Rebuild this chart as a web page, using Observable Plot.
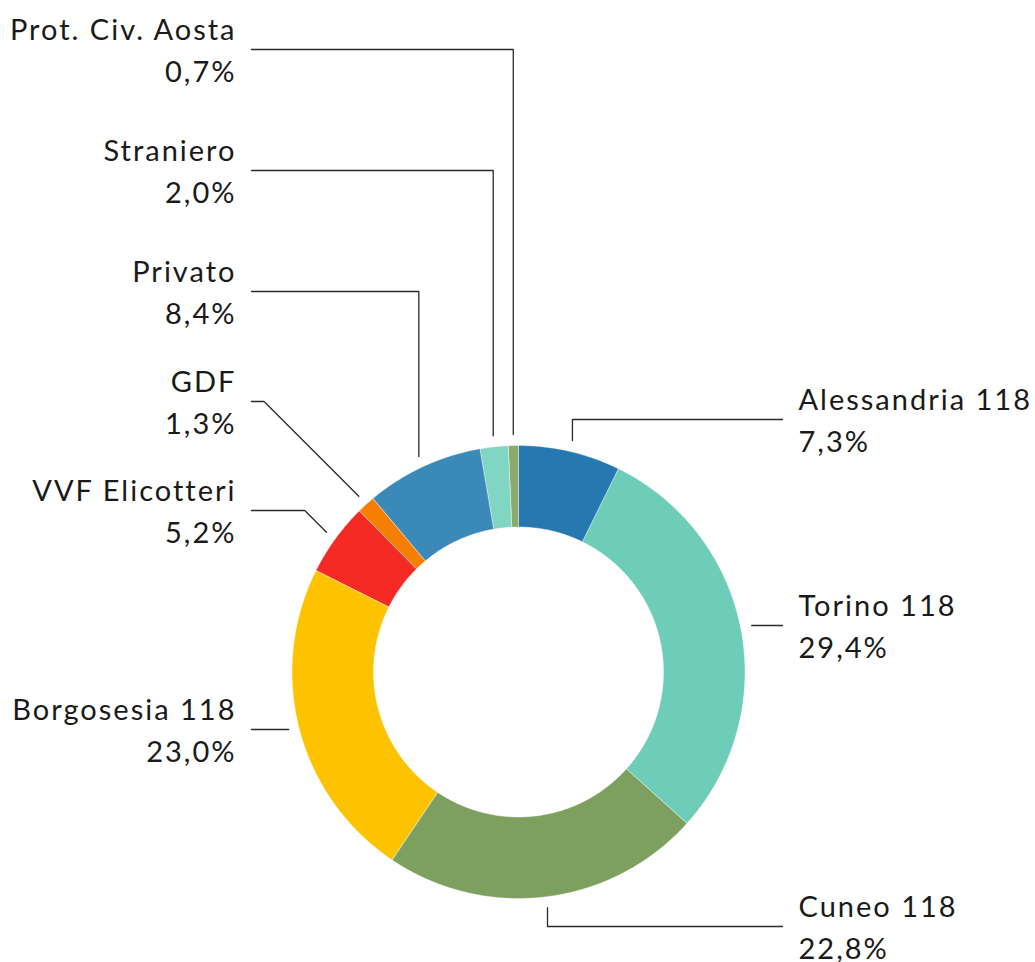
<!DOCTYPE html>
<html>
<head>
<meta charset="utf-8">
<script src="https://cdn.jsdelivr.net/npm/d3@7"></script>
<script src="https://cdn.jsdelivr.net/npm/@observablehq/plot@0.6"></script>
<style>
  html, body { margin: 0; padding: 0; background: #fff; }
  #chart svg { display: block; }
  #chart svg text { letter-spacing: 2px; }
</style>
</head>
<body>
<div id="chart"></div>
<script>
// ---- data ----
const categories = ["Alessandria 118", "Torino 118", "Cuneo 118", "Borgosesia 118", "VVF Elicotteri", "GDF", "Privato", "Straniero", "Prot. Civ. Aosta"];
const values = [7.3, 29.4, 22.8, 23.0, 5.2, 1.3, 8.4, 2.0, 0.7];
const colors = ["#2679b0", "#6dcdb9", "#7ea05f", "#fdc300", "#f62a24", "#f77f00", "#3a89b9", "#80d5c3", "#8aab6b"];

// ---- layout (pixels) ----
const W = 1035, H = 962;
const cx = 518, cy = 671.5, R = 226.5, R0 = 145, RL = 237.5;
const labelSide = ["right", "right", "right", "left", "left", "left", "left", "left", "left"];
const labelY = [419, 625, 926, 729, 510, 401, 291, 170, 49];
const bend = ["v", "h", "v", "h", "d", "d", "v", "v", "v"];
const rightTextX = 798, leftTextX = 236, leftLineX = 251, rightLineX = 782;

const total = d3.sum(values);
let acc = 0;
const slices = categories.map((c, i) => {
  const a0 = acc / total * 2 * Math.PI;
  acc += values[i];
  const a1 = acc / total * 2 * Math.PI;
  return {c, v: values[i], a0, a1, mid: (a0 + a1) / 2, i};
});
const px = (r, a) => cx + r * Math.sin(a);
const py = (r, a) => cy - r * Math.cos(a);

// ring polygons
const ring = [];
for (const s of slices) {
  const n = Math.max(2, Math.ceil((s.a1 - s.a0) / (Math.PI / 360)));
  for (let k = 0; k <= n; k++) {
    const a = s.a0 + (s.a1 - s.a0) * k / n;
    ring.push({c: s.c, x: px(R, a), y: py(R, a)});
  }
  for (let k = n; k >= 0; k--) {
    const a = s.a0 + (s.a1 - s.a0) * k / n;
    ring.push({c: s.c, x: px(R0, a), y: py(R0, a)});
  }
}

// leaders and labels
const fmt = v => d3.format(".1f")(v).replace(".", ",") + "%";
const leaders = [];
const labels = [];
for (const s of slices) {
  const ax = px(RL, s.mid);
  const ly = labelY[s.i];
  const side = labelSide[s.i];
  const ay = bend[s.i] === "h" ? ly : py(RL, s.mid);
  let ex = ax;
  if (bend[s.i] === "d") ex = side === "left" ? ax - Math.abs(ay - ly) : ax + Math.abs(ay - ly);
  const endX = side === "left" ? leftLineX : rightLineX;
  leaders.push({c: s.c, x: ax, y: ay}, {c: s.c, x: ex, y: ly}, {c: s.c, x: endX, y: ly});
  labels.push({side, x: side === "left" ? leftTextX : rightTextX, y: ly, text: `${s.c}\n${fmt(s.v)}`});
}

const textOpts = {x: "x", y: "y", dy: -2, text: "text", fontSize: 29, lineHeight: 1.44, lineAnchor: "middle", fill: "#1a1a1a", fontFamily: "Lato"};

const chart = Plot.plot({
  width: W,
  height: H,
  margin: 0,
  x: {domain: [0, W], axis: null},
  y: {domain: [0, H], reverse: true, axis: null},
  color: {domain: categories, range: colors},
  style: {fontFamily: "Lato", background: "#fff", overflow: "visible"},
  marks: [
    Plot.line(ring, {x: "x", y: "y", z: "c", fill: "c", stroke: "#ffffff", strokeWidth: 0.4, curve: "linear-closed"}),
    Plot.line(leaders, {x: "x", y: "y", z: "c", stroke: "#2a2a2a", strokeWidth: 1.3, curve: "linear"}),
    Plot.text(labels.filter(d => d.side === "left"), {...textOpts, textAnchor: "end"}),
    Plot.text(labels.filter(d => d.side === "right"), {...textOpts, textAnchor: "start"})
  ]
});
document.getElementById("chart").appendChild(chart);
</script>
</body>
</html>
